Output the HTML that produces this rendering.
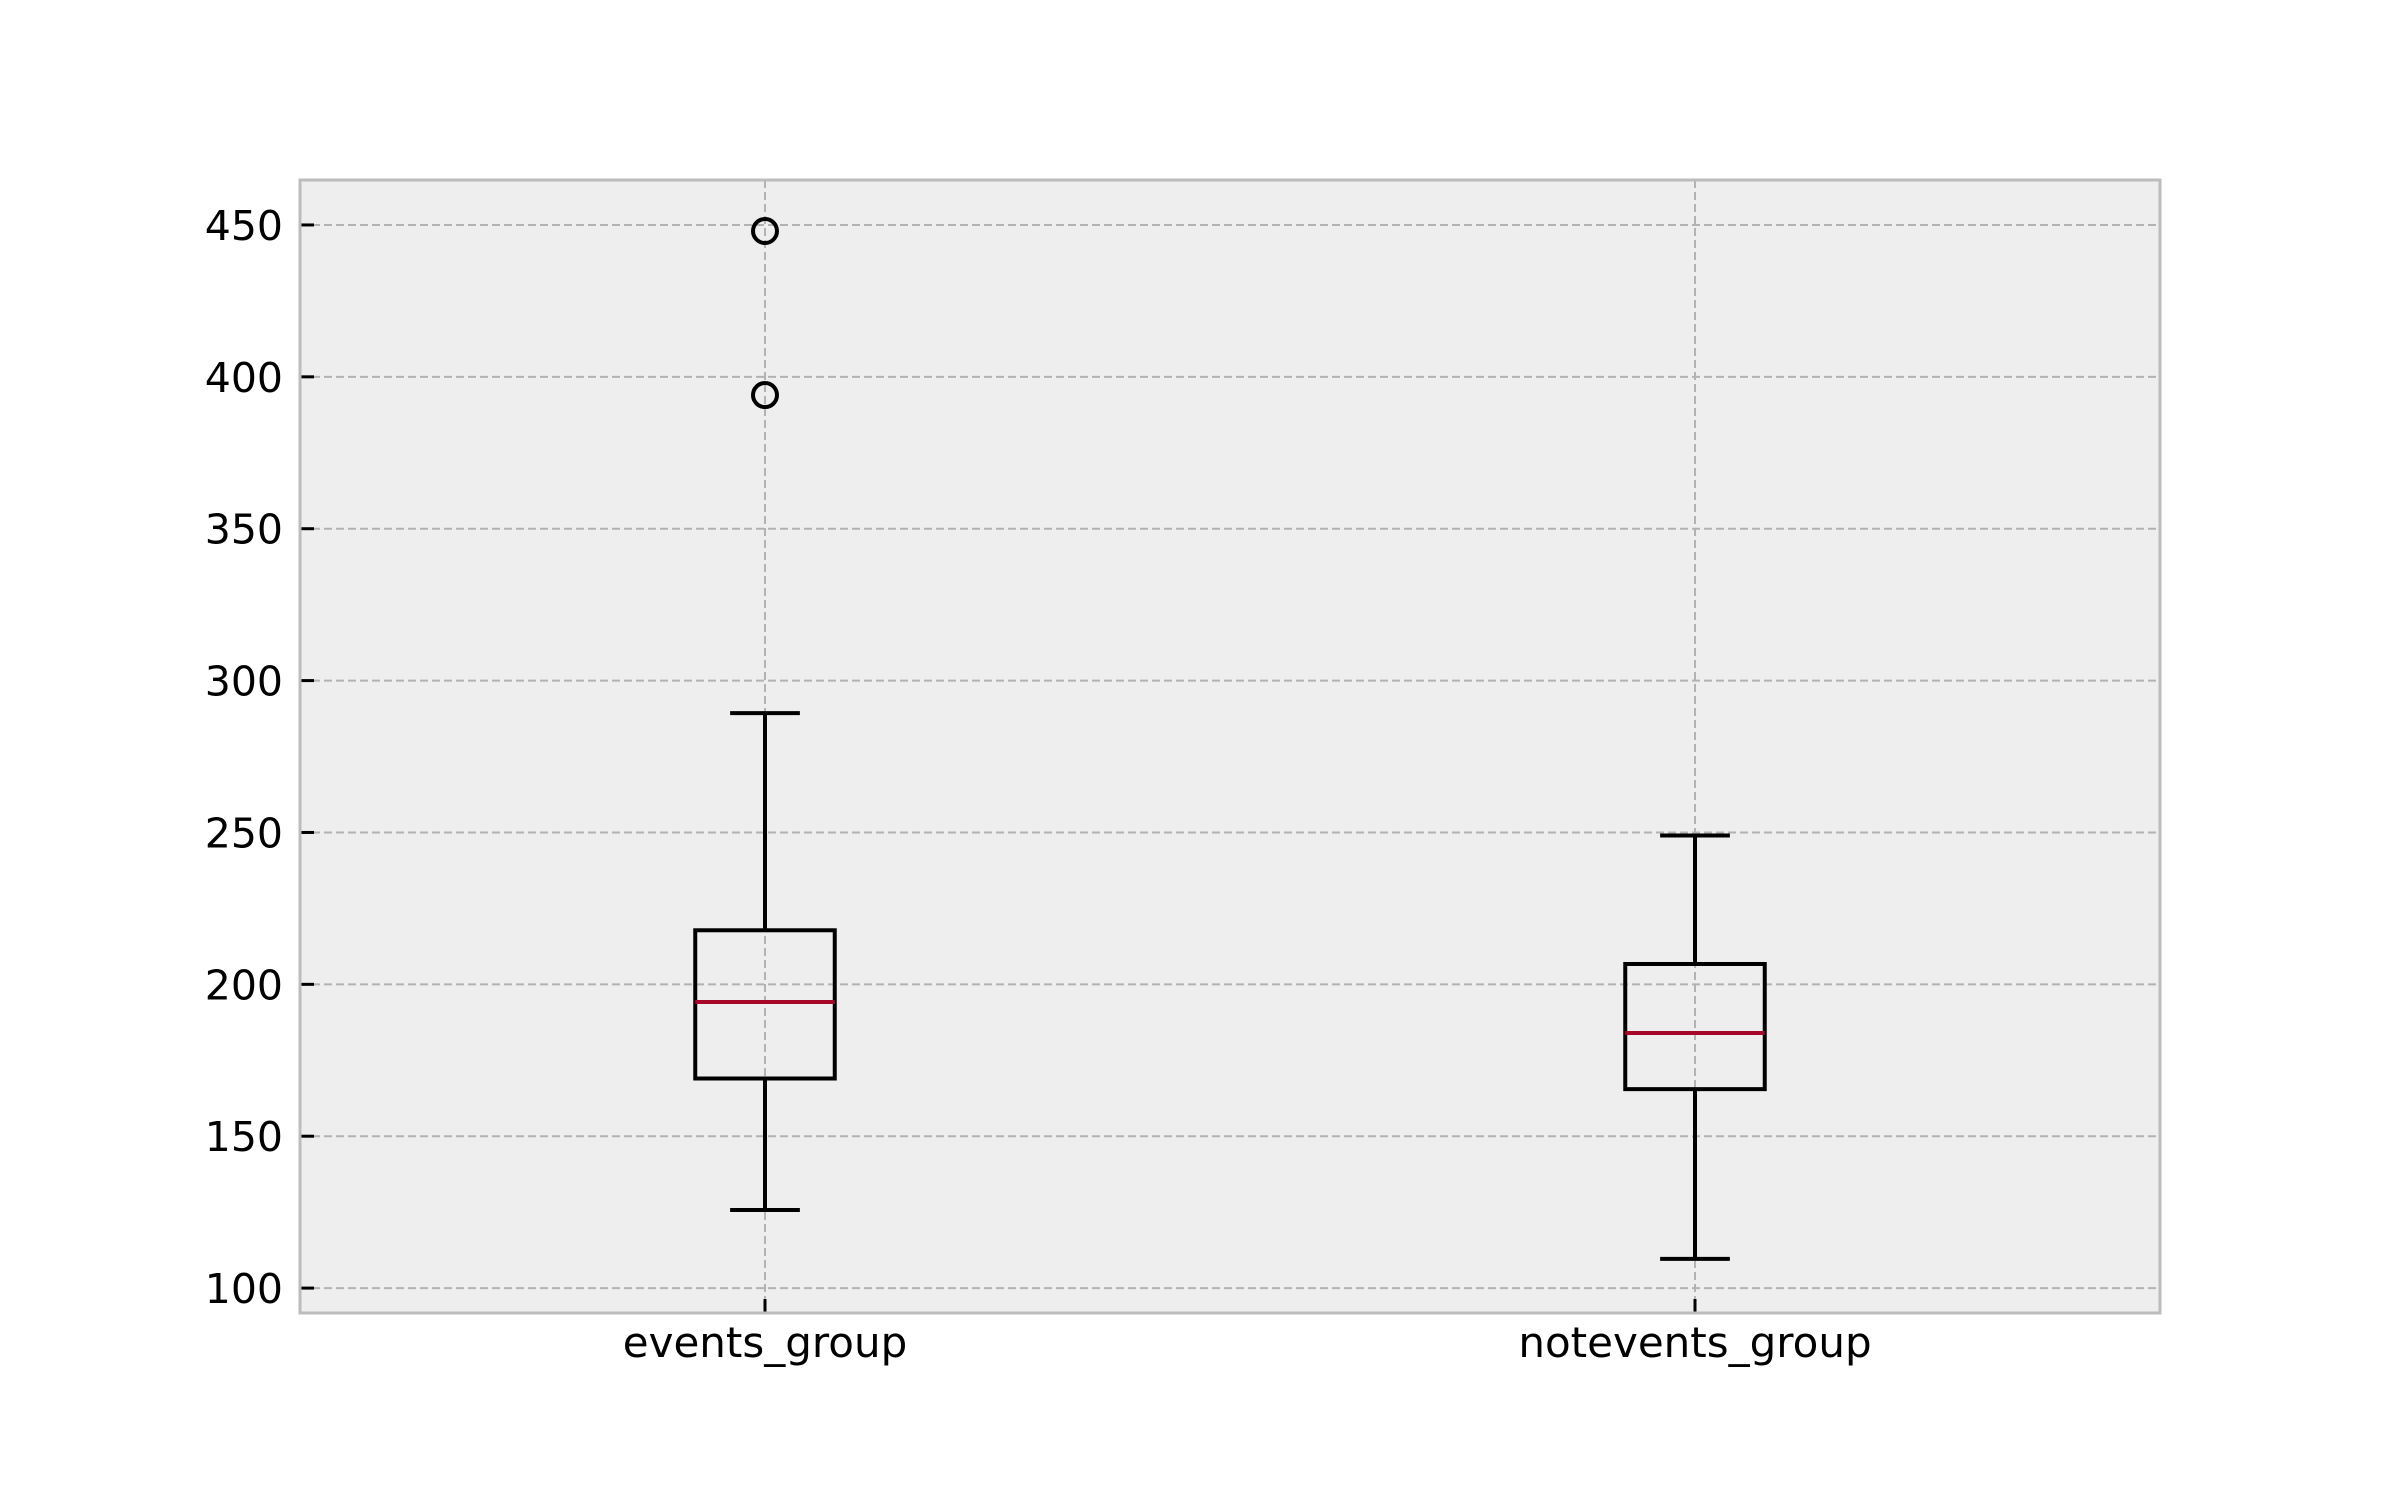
<!DOCTYPE html>
<html><head><meta charset="utf-8"><style>
html,body{margin:0;padding:0;background:#fff;}
svg{display:block;}
text{font-family:"DejaVu Sans","Liberation Sans",sans-serif;fill:#000;}
</style></head><body>
<svg id="chart" width="2400" height="1500" viewBox="0 0 2400 1500"></svg>
<script>
const categories = ["events_group", "notevents_group"];
const whiskerLow = [125.7, 109.6];
const q1 = [169, 165.5];
const medians = [194.2, 184];
const q3 = [217.8, 206.7];
const whiskerHigh = [289.3, 249];
const outliers = [[448, 394], []];
const yTicks = [100, 150, 200, 250, 300, 350, 400, 450];

const L = 300, R = 2160, T = 180, B = 1313;
const yMin = 91.8, yMax = 464.8;
const y = v => B - (v - yMin) / (yMax - yMin) * (B - T);
const x = i => L + (i + 1 - 0.5) / 2 * (R - L);
const unit = (R - L) / 2;
const NS = "http://www.w3.org/2000/svg";
const svg = document.getElementById("chart");
function mk(tag, attrs, parent) {
  const e = document.createElementNS(NS, tag);
  for (const k in attrs) e.setAttribute(k, attrs[k]);
  (parent || svg).appendChild(e);
  return e;
}
const bg = mk("rect", {x: L, y: T, width: R - L, height: B - T, fill: "#eeeeee"});



yTicks.forEach(t => {
  const g = mk("line", {x1: L, x2: R, y1: y(t), y2: y(t), stroke: "#b2b2b2", "stroke-width": 2, "stroke-dasharray": "8,4"});
  
  
  const tk = mk("line", {x1: L, x2: L + 14, y1: y(t), y2: y(t), stroke: "#000", "stroke-width": 3});
  
  
  const lb = mk("text", {x: 283, y: y(t) + 15, "text-anchor": "end", "font-size": 41});
  lb.textContent = t;
  
  
});
categories.forEach((c, i) => {
  const g = mk("line", {x1: x(i), x2: x(i), y1: T, y2: B, stroke: "#b2b2b2", "stroke-width": 2, "stroke-dasharray": "8,4"});
  
  
});

categories.forEach((c, i) => {
  const cx = x(i), bw = 0.075 * unit, cw = 0.0375 * unit;
  const grp = mk("g", {});
  
  
  const st = {stroke: "#000", "stroke-width": 4, fill: "none"};
  mk("line", Object.assign({x1: cx, x2: cx, y1: y(q3[i]), y2: y(whiskerHigh[i])}, st), grp);
  mk("line", Object.assign({x1: cx, x2: cx, y1: y(q1[i]), y2: y(whiskerLow[i])}, st), grp);
  mk("line", Object.assign({x1: cx - cw, x2: cx + cw, y1: y(whiskerHigh[i]), y2: y(whiskerHigh[i])}, st), grp);
  mk("line", Object.assign({x1: cx - cw, x2: cx + cw, y1: y(whiskerLow[i]), y2: y(whiskerLow[i])}, st), grp);
  mk("rect", Object.assign({x: cx - bw, y: y(q3[i]), width: 2 * bw, height: y(q1[i]) - y(q3[i])}, st), grp);
  const m = mk("line", {x1: cx - bw, x2: cx + bw, y1: y(medians[i]), y2: y(medians[i]), stroke: "#A60628", "stroke-width": 4}, grp);
  
  
  outliers[i].forEach(v => {
    const o = mk("circle", {cx: cx, cy: y(v), r: 12, fill: "none", stroke: "#000", "stroke-width": 4}, grp);
    
    
  });
  const tk = mk("line", {x1: cx, x2: cx, y1: B, y2: B - 14, stroke: "#000", "stroke-width": 3});
  
  
  const lb = mk("text", {x: cx, y: 1357, "text-anchor": "middle", "font-size": 42});
  lb.textContent = c;
  
  
});

const sp = mk("rect", {x: L, y: T, width: R - L, height: B - T, fill: "none", stroke: "#bcbcbc", "stroke-width": 3});


</script>
</body></html>
